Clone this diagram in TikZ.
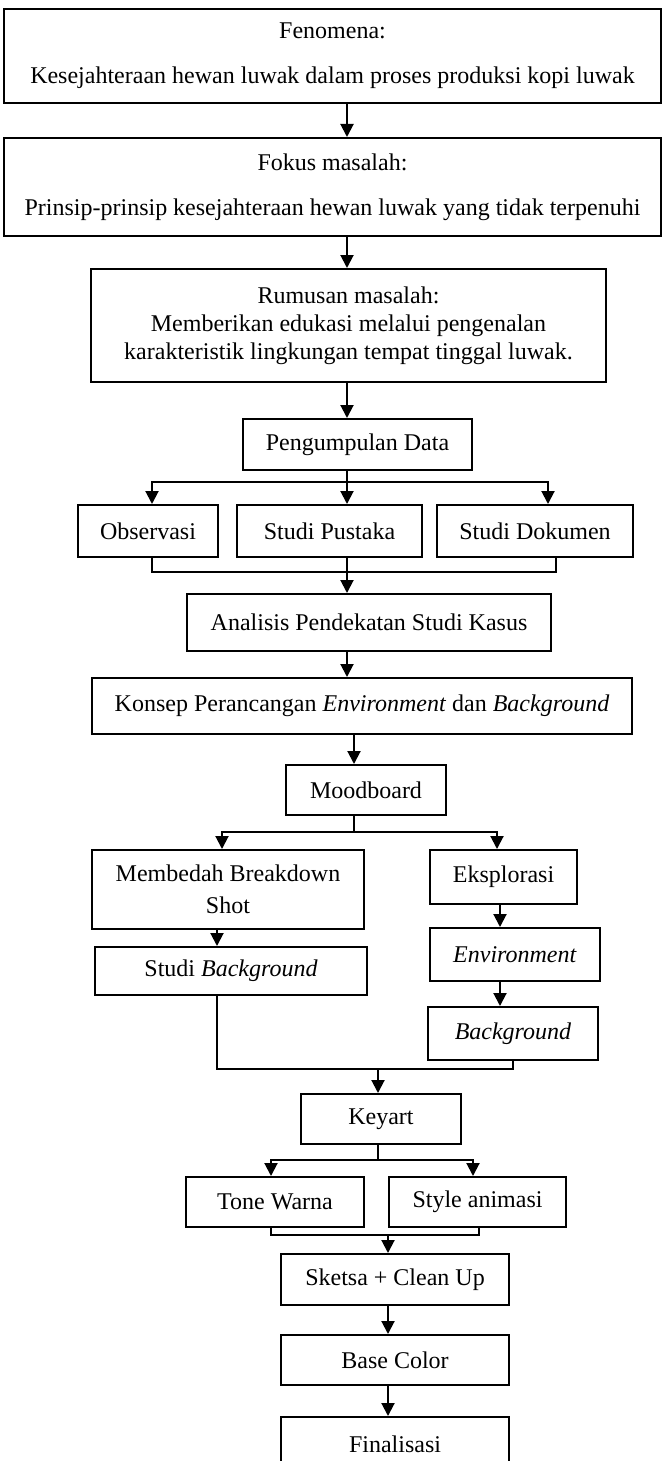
\documentclass[tikz,border=0pt]{standalone}
\usepackage{fontspec}
\setmainfont{Liberation Serif}
\usetikzlibrary{arrows.meta, positioning}

\begin{document}
\begin{tikzpicture}[
  x=1pt, y=-1pt,
  every node/.style={font=\fontsize{24}{28}\selectfont},
  box/.style={
    draw, line width=2pt, align=center,
    inner sep=0pt, anchor=north west
  },
  arrow/.style={-{Triangle[length=13pt, width=13pt]}, line width=2pt},
  line/.style={line width=2pt}
]
  \useasboundingbox (0,0) rectangle (665,1461);

  % Sumbu panah
  \coordinate (a1) at (347,0);
  \coordinate (a2) at (354,0);
  \coordinate (a3) at (217,0);
  \coordinate (a4) at (500,0);
  \coordinate (a5) at (513,0);

  % Kotak utama (bagian atas)
  \node[box, minimum width=657pt, minimum height=94pt] (fen) at (3,8)
    {Fenomena:\\[17pt] Kesejahteraan hewan luwak dalam proses produksi kopi luwak};
  \node[box, minimum width=657pt, minimum height=98pt] (fok) at (3,137)
    {Fokus masalah:\\[17pt] Prinsip-prinsip kesejahteraan hewan luwak yang tidak terpenuhi};
  \node[box, minimum width=515pt, minimum height=113pt] (rum) at (90,268)
    {Rumusan masalah:\\ Memberikan edukasi melalui pengenalan\\ karakteristik lingkungan tempat tinggal luwak.};
  \node[box, minimum width=229pt, minimum height=51pt] (peng) at (242,418) {Pengumpulan Data};

  % Metode pengumpulan data
  \node[box, minimum width=140pt, minimum height=52pt] (obs) at (77,504) {Observasi};
  \node[box, minimum width=185pt, minimum height=52pt] (pus) at (236,504) {Studi Pustaka};
  \node[box, minimum width=196pt, minimum height=52pt] (dok) at (436,504) {Studi Dokumen};

  \node[box, minimum width=364pt, minimum height=57pt] (ana) at (186,593) {Analisis Pendekatan Studi Kasus};
  \node[box, minimum width=540pt, minimum height=56pt] (kon) at (91,677)
    {Konsep Perancangan \textit{Environment} dan \textit{Background}};
  \node[box, minimum width=160pt, minimum height=50pt] (mood) at (285,764) {Moodboard};

  % Dua jalur setelah moodboard
  \node[box, minimum width=272pt, minimum height=79pt] (bedah) at (91,849) {Membedah Breakdown\\[4pt] Shot};
  \node[box, minimum width=272pt, minimum height=48pt] (stbg) at (94,946) {Studi \textit{Background}};
  \node[box, minimum width=147pt, minimum height=54pt] (eks) at (429,849) {Eksplorasi};
  \node[box, minimum width=170pt, minimum height=53pt] (env) at (429,927) {\textit{Environment}};
  \node[box, minimum width=170pt, minimum height=53pt] (bg) at (427,1006) {\textit{Background}};

  % Kotak bagian bawah
  \node[box, minimum width=160pt, minimum height=50pt] (key) at (300,1093) {Keyart};
  \node[box, minimum width=178pt, minimum height=50pt] (tone) at (185,1176) {Tone Warna};
  \node[box, minimum width=177pt, minimum height=50pt] (style) at (388,1176) {Style animasi};
  \node[box, minimum width=228pt, minimum height=51pt] (sket) at (280,1253) {Sketsa + Clean Up};
  \node[box, minimum width=228pt, minimum height=50pt] (base) at (280,1334) {Base Color};
  \node[box, minimum width=228pt, minimum height=54pt] (fin) at (280,1416) {Finalisasi};

  % Panah utama
  \draw[arrow] (fen.south -| a1) -- (fok.north -| a1);
  \draw[arrow] (fok.south -| a1) -- (rum.north -| a1);
  \draw[arrow] (rum.south -| a1) -- (peng.north -| a1);

  % Cabang pengumpulan data
  \coordinate (br1) at (347,482);
  \draw[line] (peng.south -| br1) -- (br1);
  \draw[arrow] (br1) -| ([xshift=4pt]obs.north);
  \draw[arrow] (br1) -- (pus.north -| br1);
  \draw[arrow] (br1) -| ([xshift=13pt]dok.north);

  % Gabungan ke analisis
  \coordinate (mg1) at (347,572);
  \draw[line] ([xshift=4pt]obs.south) |- (mg1);
  \draw[line] ([xshift=21pt]dok.south) |- (mg1);
  \draw[line] (pus.south -| mg1) -- (mg1);
  \draw[arrow] (mg1) -- (ana.north -| mg1);
  \draw[arrow] (ana.south -| a1) -- (kon.north -| a1);
  \draw[arrow] (kon.south -| a2) -- (mood.north -| a2);

  % Cabang moodboard
  \coordinate (br2) at (354,832);
  \draw[line] (mood.south -| br2) -- (br2);
  \draw[arrow] (br2) -| ([xshift=-6pt]bedah.north);
  \draw[arrow] (br2) -| ([xshift=-6.5pt]eks.north);
  \draw[arrow] (bedah.south -| a3) -- (stbg.north -| a3);
  \draw[arrow] (eks.south -| a4) -- (env.north -| a4);
  \draw[arrow] (env.south -| a4) -- (bg.north -| a4);

  % Gabungan ke keyart
  \coordinate (mg2) at (378,1069);
  \draw[line] (stbg.south -| a3) |- (mg2);
  \draw[line] (bg.south -| a5) |- (mg2);
  \draw[arrow] (mg2) -- (key.north -| mg2);

  % Cabang keyart
  \coordinate (br3) at (378,1160);
  \draw[line] (key.south -| br3) -- (br3);
  \draw[arrow] (br3) -| ([xshift=-4pt]tone.north);
  \draw[arrow] (br3) -| ([xshift=-4.5pt]style.north);

  % Gabungan ke sketsa
  \coordinate (mg3) at (388,1235);
  \draw[line] ([xshift=-4pt]tone.south) |- (mg3);
  \draw[line] ([xshift=1.5pt]style.south) |- (mg3);
  \draw[arrow] (mg3) -- (sket.north -| mg3);
  \draw[arrow] (sket.south -| mg3) -- (base.north -| mg3);
  \draw[arrow] (base.south -| mg3) -- (fin.north -| mg3);

\end{tikzpicture}
\end{document}
